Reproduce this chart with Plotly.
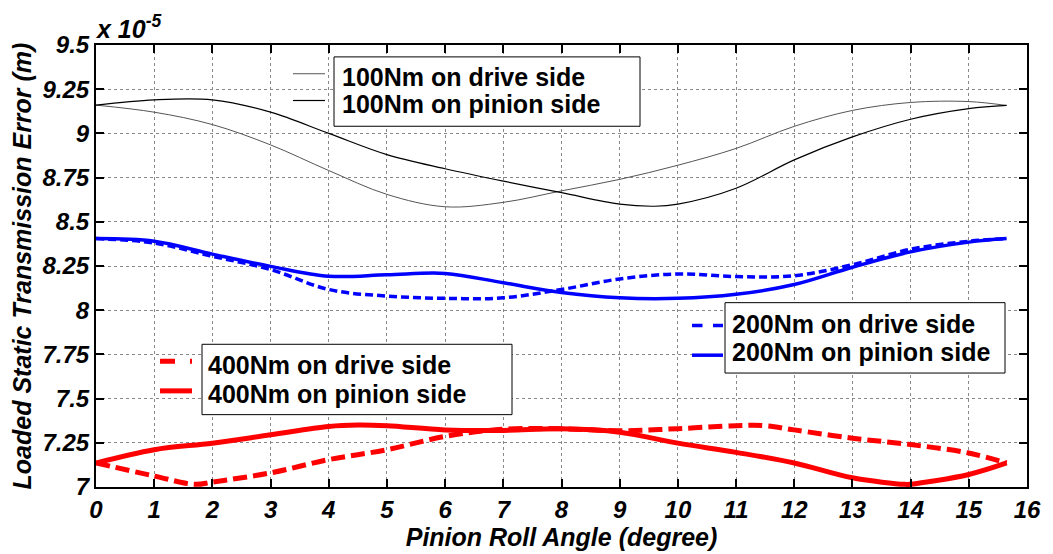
import plotly.graph_objects as go

# Pinion roll angle (degree) and loaded static transmission error (x 1e-5 m)
angle_100_drive = [0, 1, 2, 3, 4, 5, 6, 7, 8, 9, 10, 11, 12, 13, 14, 15, 15.65]
ste_100_drive = [9.16, 9.12, 9.05, 8.935, 8.79, 8.655, 8.585, 8.61, 8.675, 8.74, 8.82, 8.915, 9.04, 9.13, 9.175, 9.18, 9.158]

angle_100_pinion = [0, 1, 2, 3, 4, 5, 6, 7, 8, 9, 9.6, 10, 11, 12, 13, 14, 15, 15.65]
ste_100_pinion = [9.16, 9.19, 9.19, 9.12, 9.0, 8.88, 8.80, 8.73, 8.665, 8.60, 8.588, 8.60, 8.69, 8.85, 8.98, 9.08, 9.14, 9.158]

angle_200 = [0, 1, 2, 3, 4, 5, 6, 7, 8, 9, 10, 11, 12, 13, 14, 15, 15.65]
ste_200_drive = [8.405, 8.38, 8.305, 8.23, 8.117, 8.08, 8.067, 8.07, 8.117, 8.177, 8.205, 8.19, 8.195, 8.257, 8.345, 8.39, 8.405]
ste_200_pinion = [8.405, 8.39, 8.317, 8.248, 8.192, 8.20, 8.208, 8.155, 8.10, 8.07, 8.067, 8.09, 8.145, 8.243, 8.33, 8.385, 8.405]

angle_400_drive = [0, 1, 1.7, 2, 3, 4, 5, 6, 7, 8, 9, 10, 11, 11.5, 12, 13, 14, 15, 15.65]
ste_400_drive = [7.136, 7.062, 7.015, 7.028, 7.08, 7.155, 7.211, 7.286, 7.327, 7.329, 7.318, 7.33, 7.347, 7.347, 7.323, 7.276, 7.24, 7.192, 7.136]
angle_400_pinion = [0, 1, 2, 3, 4, 4.5, 5, 6, 7, 8, 9, 10, 11, 12, 13, 13.9, 14, 15, 15.65]
ste_400_pinion = [7.136, 7.211, 7.248, 7.295, 7.342, 7.35, 7.346, 7.323, 7.32, 7.329, 7.31, 7.248, 7.196, 7.136, 7.052, 7.015, 7.016, 7.071, 7.136]

x_ticks = list(range(0, 17))
y_ticks = [7, 7.25, 7.5, 7.75, 8, 8.25, 8.5, 8.75, 9, 9.25, 9.5]
y_tick_text = ["7", "7.25", "7.5", "7.75", "8", "8.25", "8.5", "8.75", "9", "9.25", "9.5"]

W, H = 1053, 554
L, R, T, B = 96, 1027, 45, 491

fig = go.Figure()
fig.add_trace(go.Scatter(x=angle_100_drive, y=ste_100_drive, mode="lines", line=dict(color="#555555", width=1, shape="spline"), name="100Nm on drive side"))
fig.add_trace(go.Scatter(x=angle_100_pinion, y=ste_100_pinion, mode="lines", line=dict(color="#000000", width=1.2, shape="spline"), name="100Nm on pinion side"))
fig.add_trace(go.Scatter(x=angle_200, y=ste_200_drive, mode="lines", line=dict(color="#0000ff", width=3.5, dash="8px,4px", shape="spline"), name="200Nm on drive side"))
fig.add_trace(go.Scatter(x=angle_200, y=ste_200_pinion, mode="lines", line=dict(color="#0000ff", width=3.5, shape="spline"), name="200Nm on pinion side"))
fig.add_trace(go.Scatter(x=angle_400_drive, y=ste_400_drive, mode="lines", line=dict(color="#ff0000", width=5, dash="14px,6px", shape="spline"), name="400Nm on drive side"))
fig.add_trace(go.Scatter(x=angle_400_pinion, y=ste_400_pinion, mode="lines", line=dict(color="#ff0000", width=5, shape="spline"), name="400Nm on pinion side"))

def px(xp):
    return (xp - L) / (R - L)

def py(yp):
    return (B - yp) / (B - T)

shapes = []
annotations = []
legend_specs = [
    ((334, 57, 640, 127), 340, [("100Nm on drive side", 77, 74, 293, 325, "#555555", 1, "solid"),
                                ("100Nm on pinion side", 105, 101, 293, 325, "#000000", 1.2, "solid")]),
    ((725, 305, 1005, 376), 730, [("200Nm on drive side", 327, 328, 692, 723, "#0000ff", 3.5, "dash"),
                                  ("200Nm on pinion side", 355, 358, 692, 723, "#0000ff", 3.5, "solid")]),
    ((202, 347, 512, 418), 206, [("400Nm on drive side", 368, 364, 160, 192, "#ff0000", 5, "dash"),
                                 ("400Nm on pinion side", 397, 394, 160, 192, "#ff0000", 5, "solid")]),
]
for (bl, bt, br, bb), tx, rows in legend_specs:
    shapes.append(dict(type="rect", xref="paper", yref="paper", x0=px(bl), x1=px(br), y0=py(bb), y1=py(bt),
                       line=dict(color="#000000", width=1), fillcolor="#ffffff", layer="above"))
    for text, ty, sy, sx0, sx1, col, w, d in rows:
        shapes.append(dict(type="line", xref="paper", yref="paper", x0=px(sx0), x1=px(sx1), y0=py(sy), y1=py(sy),
                           line=dict(color=col, width=w, dash=d), layer="above"))
        annotations.append(dict(text="<b>" + text + "</b>", xref="paper", yref="paper", x=px(tx), y=py(ty),
                                xanchor="left", yanchor="middle", showarrow=False,
                                font=dict(family="Liberation Sans", size=25, color="#000000")))

annotations.append(dict(text="<b><i>x 10<sup>-5</sup></i></b>", xref="paper", yref="paper", x=-0.003, y=1.0,
                        xanchor="left", yanchor="bottom", showarrow=False,
                        font=dict(family="Liberation Sans", size=25, color="#000000")))

tick_font = dict(family="Liberation Sans", size=24, color="#000000", weight="bold", style="italic")
title_font = dict(family="Liberation Sans", size=25, color="#000000", weight="bold", style="italic")
fig.update_layout(
    width=W, height=H,
    margin=dict(l=L, r=W - R, t=T, b=H - B),
    plot_bgcolor="#ffffff", paper_bgcolor="#ffffff",
    showlegend=False,
    shapes=shapes, annotations=annotations,
    xaxis=dict(range=[0, 16], tickvals=x_ticks, ticktext=[str(v) for v in x_ticks],
               showgrid=True, gridcolor="#888888", griddash="dot", gridwidth=1,
               ticks="inside", ticklen=8, tickwidth=1.5, tickcolor="#000000", mirror="ticks",
               showline=True, linecolor="#000000", linewidth=2, zeroline=False,
               tickfont=tick_font,
               title=dict(text="Pinion Roll Angle (degree)", font=title_font, standoff=2)),
    yaxis=dict(range=[7, 9.5], tickvals=y_ticks, ticktext=y_tick_text,
               showgrid=True, gridcolor="#888888", griddash="dot", gridwidth=1,
               ticks="inside", ticklen=8, tickwidth=1.5, tickcolor="#000000", mirror="ticks",
               showline=True, linecolor="#000000", linewidth=2, zeroline=False,
               tickfont=tick_font,
               title=dict(text="Loaded Static Transmission Error (m)", font=title_font, standoff=4)),
)

fig.write_html("out.html")
